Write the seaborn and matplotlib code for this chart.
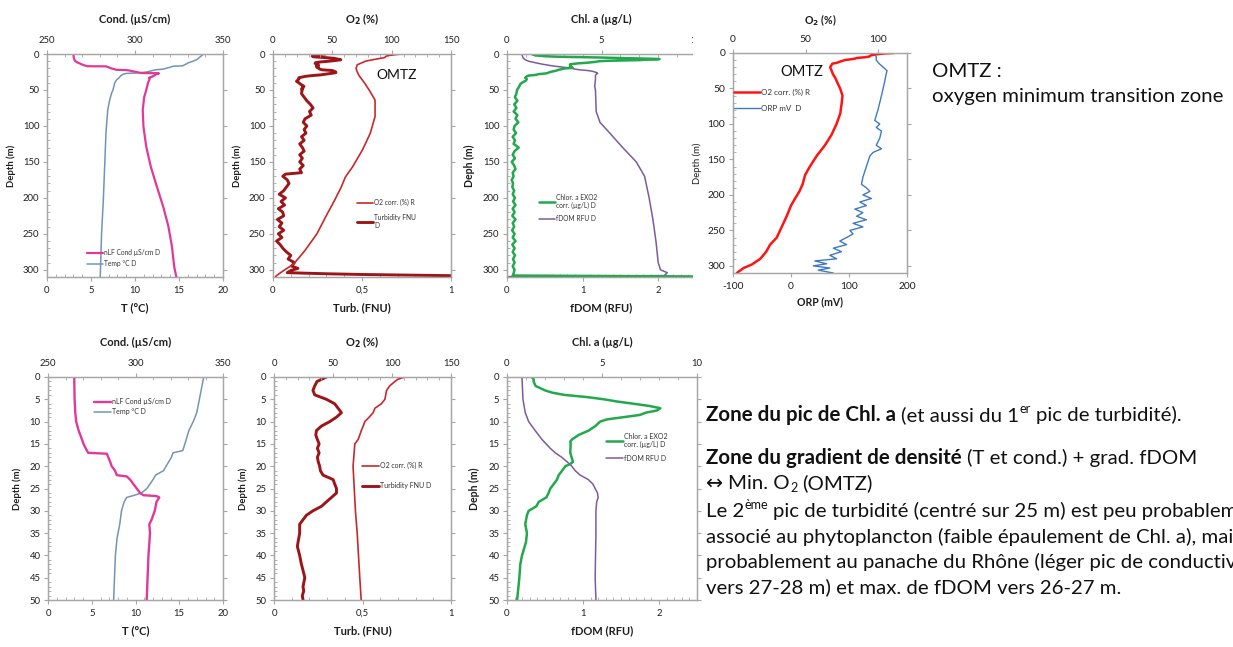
import matplotlib
matplotlib.use("Agg")
import matplotlib.pyplot as plt
import seaborn as sns
from matplotlib.ticker import MultipleLocator, FuncFormatter, NullLocator

# ---------------- DATA ----------------
temp_depth = [0, 5, 8, 10, 12, 14, 16.5, 17, 18, 20, 21, 22, 23, 25, 26, 26.5, 27, 28, 30, 33,
              36, 40, 45, 50, 54, 65, 78, 110, 157, 203, 250, 310]
temp_val = [17.8, 17.3, 17.0, 16.6, 16.1, 15.8, 15.4, 14.3, 14.1, 13.5, 13.2, 12.3, 12.0, 11.3, 10.7, 9.9,
            9.0, 8.7, 8.4, 8.2, 7.9, 7.7, 7.6, 7.5, 7.35, 7.1, 6.9, 6.7, 6.55, 6.4, 6.2, 6.05]

cond_depth = [0, 5, 8, 10, 12, 14, 15, 16.5, 17, 17.2, 19, 20, 21, 22, 22.3, 23, 24, 25, 26, 26.5,
              26.7, 27, 28, 30, 32, 33, 35, 40, 45, 50, 60, 78, 101, 129, 157, 185, 212, 240, 268, 296, 310]
cond_val = [265, 265.2, 265.6, 266.1, 267.5, 269.4, 270.3, 272.2, 273, 283.6, 285.5, 286.4, 288.3, 289.3,
            295, 296.9, 298.8, 300.7, 302.6, 304.5, 312, 313.6, 312, 311, 309.2, 307.9, 308.3, 307.4,
            306.9, 306.4, 305.2, 304.4, 304.8, 306.4, 309, 312.5, 316, 319, 321, 322.3, 323.5]

# O2 as drawn in the 0-50 m panel and in the right-hand chart
o2_depth = [0, 0.5, 1, 2, 3, 5, 6, 7, 8, 9, 10, 11, 12, 13, 14, 15, 20, 25, 30, 35,
            40, 45, 50, 60, 70, 85, 100, 115, 130, 145, 160, 172, 185, 195, 205, 215, 230, 245, 260, 270,
            280, 290, 298, 303, 308, 310]
o2_val = [111, 105, 102.5, 98, 95.4, 94, 91, 85.5, 84, 80.7, 77, 75.6, 74, 72.7, 71.3, 68.5, 67, 68, 69, 70.5,
          71.6, 72.7, 73.9, 75.5, 75, 74, 71.4, 68, 63.4, 57.7, 53, 49.7, 48, 45.8, 42.8, 40, 37, 33.6, 30.2, 25.6,
          22.9, 18.8, 13, 7.3, 3.9, 2.7]

# O2 as drawn in the 0-310 m O2 / turbidity panel
o2p_depth = [0, 0.5, 1, 2, 3, 5, 8, 10, 15, 20, 25, 30, 40, 50, 64, 87, 110, 133, 157, 171,
             185, 203, 226, 250, 273, 292, 301, 308, 310]
o2p_val = [111, 105, 102.5, 98, 95.4, 94, 84, 78, 71, 70, 71, 72.5, 77, 81, 86, 86, 82, 75.5, 67, 61,
           57.5, 52, 44.5, 37, 27, 17.4, 9, 3, 2]

turb_depth = [0, 0.5, 1, 2, 3, 4, 5, 6, 7, 8, 9, 10, 11, 12, 13, 14, 15, 16, 17, 18,
              19, 20, 21, 22, 23, 24, 25, 26, 27, 28, 29, 30, 31, 32, 33, 35, 37, 38, 40, 42,
              44, 45, 47, 48, 49, 50, 55, 60, 65, 70, 75, 80, 85, 90, 95, 100, 105, 110, 115, 120,
              125, 130, 135, 140, 145, 150, 155, 160, 165, 167, 170, 175, 180, 185, 190, 195, 200, 205, 210, 215,
              220, 225, 230, 235, 240, 245, 250, 255, 260, 265, 270, 275, 280, 285, 290, 295, 298, 301, 304, 305.5,
              306.5, 307.5, 308.5]
turb_val = [0.296, 0.27, 0.243, 0.23, 0.22, 0.23, 0.296, 0.343, 0.362, 0.381, 0.353, 0.315, 0.268, 0.24, 0.236,
            0.245, 0.255, 0.245, 0.255, 0.245, 0.25, 0.258, 0.262, 0.277, 0.334, 0.343, 0.353, 0.353, 0.325, 0.296,
            0.268, 0.22, 0.183, 0.164, 0.145, 0.145, 0.136, 0.132, 0.145, 0.155, 0.168, 0.174, 0.164, 0.168, 0.16,
            0.164, 0.16, 0.175, 0.19, 0.21, 0.225, 0.205, 0.215, 0.18, 0.17, 0.19, 0.175, 0.185, 0.16, 0.175,
            0.15, 0.165, 0.175, 0.15, 0.165, 0.15, 0.17, 0.15, 0.16, 0.07, 0.055, 0.08, 0.09, 0.075, 0.06,
            0.035, 0.07, 0.045, 0.065, 0.03, 0.055, 0.06, 0.025, 0.05, 0.035, 0.06, 0.03, 0.05, 0.02, 0.04,
            0.055, 0.075, 0.1, 0.085, 0.12, 0.105, 0.14, 0.1, 0.08, 0.3, 0.5, 0.8, 1.1]

chl_depth = [0, 0.5, 1, 2, 2.5, 3, 3.5, 4, 4.5, 5, 5.5, 6, 6.5, 7, 7.5, 8, 8.5, 9, 9.5, 10,
             11, 12, 13, 14, 14.5, 15, 17, 18, 19, 19.5, 20, 21, 22, 23, 24, 25, 26, 27, 28, 29,
             30, 31, 33, 35, 37, 40, 42, 45, 48, 50, 55, 60, 65, 70, 75, 80, 85, 90, 95, 100,
             105, 110, 115, 120, 125, 130, 135, 140, 145, 150, 155, 160, 165, 170, 175, 180, 185, 190, 195, 200,
             205, 210, 215, 220, 225, 230, 235, 240, 245, 250, 255, 260, 265, 270, 275, 280, 285, 290, 295, 300,
             305, 308, 309.5]
chl_val = [1.3, 1.4, 1.4, 1.5, 1.75, 2.0, 2.37, 3.0, 4.2, 5.1, 5.8, 6.67, 7.5, 8.07, 7.9, 7.3, 7.0, 6.14, 5.26, 4.9,
           4.65, 4.3, 3.77, 3.42, 3.33, 3.35, 3.33, 3.4, 3.47, 3.33, 3.07, 2.9, 2.72, 2.63, 2.46, 2.28, 2.19, 2.07,
           1.67, 1.54, 1.14, 1.05, 0.96, 1.05, 1.0, 0.79, 0.7, 0.65, 0.58, 0.53, 0.5, 0.42, 0.55, 0.38, 0.5, 0.35,
           0.55, 0.45, 0.6, 0.4, 0.35, 0.48, 0.3, 0.42, 0.35, 0.62, 0.4, 0.3, 0.42, 0.25, 0.38, 0.45, 0.3, 0.35,
           0.25, 0.32, 0.28, 0.38, 0.3, 0.42, 0.32, 0.45, 0.3, 0.4, 0.28, 0.45, 0.3, 0.38, 0.27, 0.4, 0.3, 0.45,
           0.28, 0.4, 0.3, 0.42, 0.32, 0.4, 0.3, 0.4, 0.35, 0.3, 12.0]

fdom_depth = [0, 5, 8, 10, 12, 14, 16, 17, 18, 19, 20, 21, 22, 23, 24, 25, 26, 27, 28, 30,
              35, 40, 45, 50, 80, 95, 110, 130, 150, 170, 200, 230, 260, 290, 300, 304, 308, 309.5]
fdom_val = [0.197, 0.21, 0.24, 0.285, 0.37, 0.46, 0.57, 0.635, 0.72, 0.79, 0.853, 0.897, 0.963, 1.07, 1.13,
            1.16, 1.19, 1.2, 1.18, 1.17, 1.17, 1.165, 1.16, 1.17, 1.18, 1.23, 1.36, 1.53, 1.71, 1.82, 1.88,
            1.93, 1.97, 2.0, 2.03, 2.12, 2.08, 0.0]

orp_depth = [0, 2, 5, 10, 15, 20, 25, 30, 40, 60, 80, 95, 100, 105, 110, 120, 130, 135, 140, 145,
             160, 175, 185, 190, 195, 200, 205, 210, 215, 220, 225, 230, 235, 240, 245, 250, 255, 260, 265, 270,
             275, 280, 285, 290, 293, 297, 300, 303, 306, 310]
orp_val = [147, 144, 147, 147, 152, 159, 165.6, 164, 161.6, 156, 150, 144.4, 153, 147, 156, 153, 147, 156,
           141.6, 136, 130, 124, 121.5, 130, 136, 124, 138.7, 118.7, 130, 110, 124, 113, 130, 107, 124, 101.5,
           107, 95.8, 84, 95.8, 72.9, 87, 67, 78.6, 41, 61.4, 38.5, 67, 47, 72.9]

lbl_cond = "nLF Cond µS/cm D"
lbl_temp = "Temp °C D"
lbl_o2 = "O2 corr. (%) R"
lbl_turb_top = "Turbidity FNU\nD"
lbl_turb_bot = "Turbidity FNU D"
lbl_chl = "Chlor. a EXO2\ncorr. (µg/L) D"
lbl_fdom = "fDOM RFU D"
lbl_orp = "ORP mV  D"

# ---------------- STYLE ----------------
sns.set_theme(style="white")
FAM = ['Lato', 'DejaVu Sans']
plt.rcParams['font.family'] = FAM
plt.rcParams['axes.unicode_minus'] = False

W, H, DPI = 1233, 647, 100
fig = plt.figure(figsize=(W / DPI, H / DPI), dpi=DPI)
fig.patch.set_facecolor('white')
PT = 0.72  # points per pixel

C_COND, C_TEMP = '#e0399a', '#7394b5'
C_O2, C_TURB = '#c8282c', '#9c1518'
C_CHL, C_FDOM = '#23a84e', '#7b5b9b'
C_O2R, C_ORP = '#ff1414', '#4079c2'
SPINE = '#a6a6a6'
TXT = '#1e1e1e'


def px_axes(l, t, r, b, z=0):
    ax = fig.add_axes([l / W, 1 - b / H, (r - l) / W, (b - t) / H])
    ax.set_zorder(z)
    return ax


def draw(ax, x, y, color, lw, label):
    sns.lineplot(x=x, y=y, ax=ax, sort=False, estimator=None, color=color,
                 linewidth=lw, legend=False)
    ln = ax.lines[-1]
    ln.set_label(label)
    ln.set_solid_joinstyle('round')
    return ln


comma = FuncFormatter(lambda v, p: ('%g' % v).replace('.', ','))


def setup(ax, ax2, xlim, xmaj, xmin, x2lim, x2maj, x2min, ymax, ymaj, ymin, fs,
          xlabel, x2label, ylabel, ypad, xfmt=None, ylfs=None, ylweight='bold',
          tpad=3.5, lpad=2.5, lfs=None, bpad=5, toppad=9):
    lfs = lfs or fs + 1.2
    ax.set_xlim(*xlim)
    ax2.set_xlim(*x2lim)
    ax.set_ylim(ymax, 0)
    ax.xaxis.set_major_locator(MultipleLocator(xmaj))
    ax.xaxis.set_minor_locator(MultipleLocator(xmin) if xmin else NullLocator())
    ax2.xaxis.set_major_locator(MultipleLocator(x2maj))
    ax2.xaxis.set_minor_locator(MultipleLocator(x2min) if x2min else NullLocator())
    ax.yaxis.set_major_locator(MultipleLocator(ymaj))
    ax.yaxis.set_minor_locator(MultipleLocator(ymin))
    if xfmt is not None:
        ax.xaxis.set_major_formatter(xfmt)
    for a in (ax, ax2):
        for s in a.spines.values():
            s.set_color(SPINE)
            s.set_linewidth(0.9)
        a.grid(False)
    ax.tick_params(axis='x', which='major', bottom=True, top=False, direction='out', length=3,
                   width=0.8, color=SPINE, labelsize=fs, labelcolor=TXT, pad=tpad)
    ax.tick_params(axis='x', which='minor', bottom=True, top=False, direction='in', length=2,
                   width=0.6, color=SPINE)
    ax2.tick_params(axis='x', which='major', top=True, bottom=False, direction='out', length=3,
                    width=0.8, color=SPINE, labelsize=fs, labelcolor=TXT, pad=tpad)
    ax2.tick_params(axis='x', which='minor', top=True, bottom=False, direction='in', length=2,
                    width=0.6, color=SPINE)
    ax.tick_params(axis='y', which='major', left=True, right=True, direction='out', length=3,
                   width=0.8, color=SPINE, labelsize=fs, labelcolor=TXT, pad=lpad)
    ax.tick_params(axis='y', which='minor', left=True, right=False, direction='in', length=2,
                   width=0.6, color=SPINE)
    ax.set_xlabel(xlabel, fontsize=lfs, fontweight='bold', color=TXT, labelpad=bpad)
    ax2.set_xlabel(x2label, fontsize=lfs, fontweight='bold', color=TXT, labelpad=toppad)
    ax.set_ylabel(ylabel, fontsize=ylfs or fs, fontweight=ylweight, color=TXT, labelpad=ypad)


def legend(ax, handles, x_px, y_px, fs, spacing=0.6, hl=2.4):
    lg = ax.legend(handles=handles, loc='upper left', bbox_to_anchor=(x_px / W, 1 - y_px / H),
                   bbox_transform=fig.transFigure, frameon=False, fontsize=fs, borderpad=0,
                   borderaxespad=0, handlelength=hl, handletextpad=0.2, labelspacing=spacing)
    for t in lg.get_texts():
        t.set_color('#333333')
    return lg


FS = 6.8
# ================= TOP ROW (0-310 m) =================
# Panel A : temperature / conductivity
axA = px_axes(47, 54, 223, 277)
axA2 = axA.twiny()
lc = draw(axA2, cond_val, cond_depth, C_COND, 1.6, lbl_cond)
lt = draw(axA, temp_val, temp_depth, C_TEMP, 1.1, lbl_temp)
setup(axA, axA2, (0, 20), 5, 1, (250, 350), 50, 10, 310, 50, 10, FS,
      'T (°C)', 'Cond. (µS/cm)', 'Depth (m)', 5)
legend(axA2, [lc, lt], 87, 249, 4.8)

# Panel B : O2 / turbidity
axB = px_axes(273, 54, 451, 277)
axB2 = axB.twiny()
lo = draw(axB2, o2p_val, o2p_depth, C_O2, 1.2, lbl_o2)
lu = draw(axB, turb_val, turb_depth, C_TURB, 2.1, lbl_turb_top)
setup(axB, axB2, (0, 1), 0.5, 0.1, (0, 150), 50, 10, 310, 50, 10, FS,
      'Turb. (FNU)', r'O$_\mathbf{2}$ (%)', 'Depth (m)', 5, xfmt=comma)
legend(axB2, [lo, lu], 357, 199, 4.8, spacing=1.2)
fig.text(376 / W, 1 - 79 / H, 'OMTZ', fontsize=10, color='#111111', ha='left', va='baseline')

# Panel C : Chl a / fDOM
axC = px_axes(507, 54, 696, 277)
axC2 = axC.twiny()
lch = draw(axC2, chl_val, chl_depth, C_CHL, 1.8, lbl_chl)
lfd = draw(axC, fdom_val, fdom_depth, C_FDOM, 1.1, lbl_fdom)
setup(axC, axC2, (0, 2.5), 1, 0.1, (0, 10), 5, 1, 310, 50, 10, FS,
      'fDOM (RFU)', 'Chl. a (µg/L)', 'Deph (m)', 6, ylfs=7.6)
legend(axC2, [lch, lfd], 539, 194, 4.8, spacing=0.9)

# white background of the pasted right-hand chart (covers the cut-off part of panel C)
axBG = px_axes(693, 0, 930, 322, z=1)
axBG.set_axis_off()
axBG.add_patch(plt.Rectangle((0, 0), 1, 1, transform=axBG.transAxes, color='white', zorder=0))

# Panel D : O2 / ORP (right-hand chart)
axD = px_axes(733, 53, 907, 273, z=2)
axD2 = axD.twiny()
axD2.set_zorder(2.1)
lo2 = draw(axD2, o2_val, o2_depth, C_O2R, 1.8, lbl_o2)
lor = draw(axD, orp_val, orp_depth, C_ORP, 1.0, lbl_orp)
setup(axD, axD2, (-100, 200), 100, None, (0, 120), 50, None, 310, 50, 10, 7.4,
      'ORP (mV)', r'O$_\mathbf{2}$ (%)', 'Depth (m)', 4, ylfs=6.8, ylweight='normal',
      lfs=7.6, bpad=4, toppad=8)
legend(axD2, [lo2, lor], 734, 89, 5.8, spacing=1.1, hl=3.2)
fig.text(780 / W, 1 - 76 / H, 'OMTZ', fontsize=10.5, color='#111111', ha='left', va='baseline')

# ================= BOTTOM ROW (0-50 m) =================
axE = px_axes(48, 377, 223, 600)
axE2 = axE.twiny()
lc = draw(axE2, cond_val, cond_depth, C_COND, 1.7, lbl_cond)
lt = draw(axE, temp_val, temp_depth, C_TEMP, 1.1, lbl_temp)
setup(axE, axE2, (0, 20), 5, 1, (250, 350), 50, 10, 50, 5, 1, FS,
      'T (°C)', 'Cond. (µS/cm)', 'Depth (m)', 5)
legend(axE2, [lc, lt], 94, 398, 5.0, spacing=0.5)

axF = px_axes(274, 377, 451, 600)
axF2 = axF.twiny()
lo = draw(axF2, o2_val, o2_depth, C_O2, 1.2, lbl_o2)
lu = draw(axF, turb_val, turb_depth, C_TURB, 2.1, lbl_turb_bot)
setup(axF, axF2, (0, 1), 0.5, 0.1, (0, 150), 50, 10, 50, 5, 1, FS,
      'Turb. (FNU)', r'O$_\mathbf{2}$ (%)', 'Depth (m)', 5, xfmt=comma)
legend(axF2, [lo, lu], 362, 462, 5.0, spacing=1.9)

axG = px_axes(507, 377, 697, 600)
axG2 = axG.twiny()
lch = draw(axG2, chl_val, chl_depth, C_CHL, 1.8, lbl_chl)
lfd = draw(axG, fdom_val, fdom_depth, C_FDOM, 1.1, lbl_fdom)
setup(axG, axG2, (0, 2.5), 1, 0.1, (0, 10), 5, 1, 50, 5, 1, FS,
      'fDOM (RFU)', 'Chl. a (µg/L)', 'Deph (m)', 6, ylfs=7.6)
legend(axG2, [lch, lfd], 606, 433, 5.0, spacing=0.9)

# ================= ANNOTATION TEXT =================
renderer = fig.canvas.get_renderer()


def text_w(s, size, weight='normal', family=None):
    t = fig.text(0, 0, s, fontsize=size, fontweight=weight, family=family or FAM)
    w = t.get_window_extent(renderer).width
    t.remove()
    return w


def draw_runs(x, ybase, runs, rsize, bsize):
    space = text_w('a a', rsize) - text_w('aa', rsize)
    cx = x
    for s, kind, gap in runs:
        if gap:
            cx += space
        size = bsize if kind == 'b' else rsize
        fs = size * 0.62 if kind in ('sup', 'sub') else size
        weight = 'bold' if kind == 'b' else 'normal'
        fam = ['DejaVu Sans'] if kind == 'sym' else FAM
        dy = {'sup': size / PT * 0.40, 'sub': -size / PT * 0.14}.get(kind, 0)
        t = fig.text(cx / W, 1 - (ybase - dy) / H, s, fontsize=fs, fontweight=weight,
                     family=fam, ha='left', va='baseline', color='#111111')
        cx += t.get_window_extent(renderer).width
    return cx - x


# right-hand note
base = 12.0
sz = base * 290 / text_w('oxygen minimum transition zone', base)
fig.text(932 / W, 1 - 77 / H, 'OMTZ :', fontsize=sz, ha='left', va='baseline', color='#111111')
fig.text(932 / W, 1 - 102 / H, 'oxygen minimum transition zone', fontsize=sz, ha='left',
         va='baseline', color='#111111')

# text block: regular and bold sizes fitted to the reference widths
rsz = base * 229 / text_w('(T et cond.) + grad. fDOM', base)
bsz = base * 255 / text_w('Zone du gradient de densité', base, 'bold')

lines = [
    (421, [("Zone du pic de Chl. a", 'b', False), ("(et aussi du 1", 'r', True), ("er", 'sup', False),
           ("pic de turbidité).", 'r', True)]),
    (464, [("Zone du gradient de densité", 'b', False), ("(T et cond.) + grad. fDOM", 'r', True)]),
    (489, [("↔", 'sym', False), ("Min. O", 'r', True), ("2", 'sub', False), ("(OMTZ)", 'r', True)]),
    (517, [("Le 2", 'r', False), ("ème", 'sup', False),
           ("pic de turbidité (centré sur 25 m) est peu probablement", 'r', True)]),
    (543, [("associé au phytoplancton (faible épaulement de Chl. a), mais", 'r', False)]),
    (568, [("probablement au panache du Rhône (léger pic de conductivité", 'r', False)]),
    (593, [("vers 27-28 m) et max. de fDOM vers 26-27 m.", 'r', False)]),
]
for yb, runs in lines:
    draw_runs(706, yb, runs, rsz, bsz)

fig.savefig('out.png', dpi=DPI, facecolor='white')
